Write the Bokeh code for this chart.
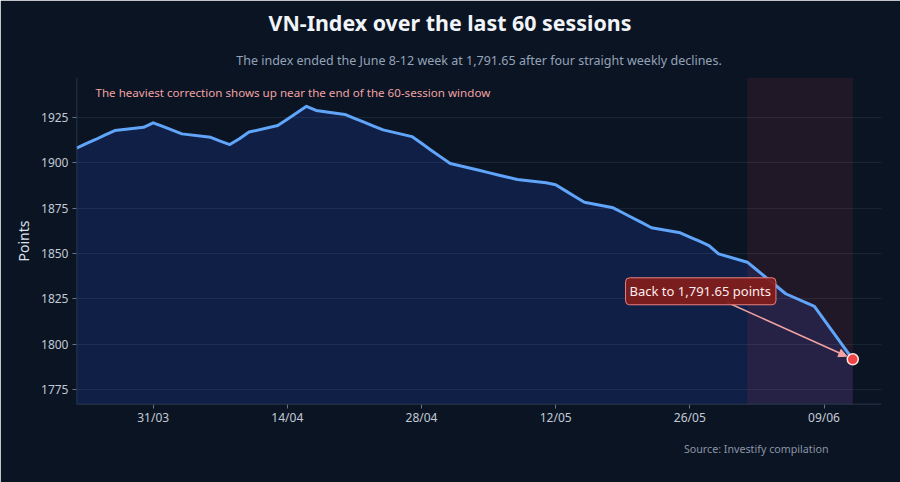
import pandas as pd
from bokeh.plotting import figure
from bokeh.models import (Range1d, FixedTicker, DatetimeTickFormatter, Label, Title, Span,
                          BoxAnnotation, Arrow, NormalHead, ColumnDataSource)
from bokeh.embed import file_html
from bokeh.resources import INLINE

# ---------------- data ----------------
dates = pd.bdate_range("2026-03-23", "2026-06-12")  # 60 sessions
values = [
    1908.1, 1910.6, 1912.9, 1915.5, 1917.8,
    1919.6, 1922.1, 1920.1, 1918.1, 1916.0,
    1914.1, 1912.0, 1910.1, 1913.3, 1917.0,
    1920.6, 1924.1, 1927.6, 1931.2, 1928.9,
    1926.7, 1924.6, 1922.5, 1920.3, 1918.2,
    1914.5, 1910.8, 1907.0, 1903.3, 1899.7,
    1895.9, 1894.6, 1893.3, 1892.1, 1890.8,
    1889.0, 1887.9, 1884.7, 1881.5, 1878.3,
    1875.2, 1872.5, 1869.7, 1867.0, 1864.2,
    1861.4, 1859.1, 1856.8, 1854.4, 1849.8,
    1845.2, 1840.9, 1836.5, 1832.2, 1827.8,
    1820.8, 1813.5, 1806.2, 1798.9, 1791.65,
]
y_ticks = [1775, 1800, 1825, 1850, 1875, 1900, 1925]
x_tick_dates = ["2026-03-31", "2026-04-14", "2026-04-28", "2026-05-12", "2026-05-26", "2026-06-09"]

title_text = "VN-Index over the last 60 sessions"
subtitle_text = "The index ended the June 8-12 week at 1,791.65 after four straight weekly declines."
note_text = "The heaviest correction shows up near the end of the 60-session window"
callout_text = "Back to 1,791.65 points"
source_text = "Source: Investify compilation"

# ---------------- style ----------------
BG = "#0a1423"
AXIS = "#334155"
FONT = "Noto Sans"
W, H = 900, 482
ML, MR, MT, MB = 76, 19, 77, 78
FW, FH = W - ML - MR, H - MT - MB

x0 = pd.Timestamp("2026-03-23")
x1 = pd.Timestamp("2026-06-15")
y0, y1 = 1766.7, 1947.1

def ms(t):
    return pd.Timestamp(t).value / 1e6

src = ColumnDataSource(dict(x=dates, y=values, base=[y0 - 50] * len(values)))

p = figure(width=W, height=H, x_axis_type="datetime",
           output_backend="svg", toolbar_location=None,
           x_range=Range1d(x0, x1), y_range=Range1d(y0, y1),
           min_border_left=ML, min_border_right=MR,
           min_border_top=MT, min_border_bottom=MB)
p.background_fill_color = BG
p.border_fill_color = BG
p.outline_line_color = BG
p.outline_line_width = 2

# titles (subtitle closest to the frame, main title above it)
p.add_layout(Title(text=subtitle_text, align="center", text_font=FONT,
                   text_font_size="12.5px", text_font_style="normal",
                   text_color="#94a3b8", standoff=17), "above")
p.add_layout(Title(text=title_text, align="left", offset=192, text_font=FONT,
                   text_font_size="21.4px", text_font_style="bold",
                   text_color="#f1f5f9", standoff=10), "above")

# grid
p.xgrid.grid_line_color = None
p.ygrid.grid_line_color = "#94a3b8"
p.ygrid.grid_line_alpha = 0.12
p.ygrid.grid_line_width = 1

# axes (axis lines drawn as spans on the range edges)
p.yaxis.ticker = FixedTicker(ticks=y_ticks)
p.xaxis.ticker = FixedTicker(ticks=[ms(d) for d in x_tick_dates])
p.xaxis.formatter = DatetimeTickFormatter(days="%d/%m", months="%d/%m", hours="%d/%m",
                                          years="%d/%m", minutes="%d/%m")
for ax in (p.xaxis, p.yaxis):
    ax.axis_line_color = None
    ax.major_tick_line_color = "#64748b"
    ax.major_tick_out = 4
    ax.major_tick_in = 0
    ax.minor_tick_line_color = None
    ax.major_label_text_font = FONT
    ax.major_label_text_font_size = "12px"
    ax.major_label_text_color = "#c3cad5"
p.xaxis.major_label_standoff = 0
p.yaxis.major_label_standoff = 4
p.yaxis.axis_label = "Points"
p.yaxis.axis_label_text_font = FONT
p.yaxis.axis_label_text_font_size = "14px"
p.yaxis.axis_label_text_font_style = "normal"
p.yaxis.axis_label_text_color = "#dde3ec"
p.yaxis.axis_label_standoff = 5

# source below the axis
p.add_layout(Title(text=source_text, align="right", offset=53, text_font=FONT,
                   text_font_size="10.7px", text_font_style="normal",
                   text_color="#8b95a5", standoff=22), "below")

# area + shade + line
area = p.varea(x="x", y1="base", y2="y", source=src, fill_color="#1e40af", fill_alpha=0.25)
area.level = "image"
shade = BoxAnnotation(left=ms(dates[-10]), right=ms(dates[-1]),
                      fill_color="#ef4444", fill_alpha=0.1, line_color=None, level="underlay")
p.add_layout(shade)
p.line(x="x", y="y", source=src, line_color="#60a5fa", line_width=3, line_join="round")

p.add_layout(Span(location=y0, dimension="width", line_color=AXIS, line_width=1.5))
p.add_layout(Span(location=ms(x0), dimension="height", line_color=AXIS, line_width=1.5))

# callout arrow (offsets in screen pixels converted through the scales)
px_day = FW / ((x1 - x0).total_seconds() / 86400)
px_pt = FH / (y1 - y0)
day_ms = 86400000
tail_dx, tail_dy = -126, 57
tip_dx, tip_dy = -6, 3
p.add_layout(Arrow(
    end=NormalHead(size=8, fill_color="#f4a3a3", line_color="#f4a3a3"),
    x_start=ms(dates[-1]) + tail_dx / px_day * day_ms, y_start=values[-1] + tail_dy / px_pt,
    x_end=ms(dates[-1]) + tip_dx / px_day * day_ms, y_end=values[-1] + tip_dy / px_pt,
    line_color="#f4a3a3", line_width=1.5))

p.scatter(x=[dates[-1]], y=[values[-1]], size=11, fill_color="#ef4444",
          line_color="#fee2e2", line_width=1.5)

p.add_layout(Label(x=ms(dates[-1]), y=values[-1], x_offset=-152, y_offset=68,
                   text=callout_text, text_align="center", text_baseline="middle",
                   text_font=FONT, text_font_size="13px", text_color="#fdecec",
                   background_fill_color="#7f1d1d", background_fill_alpha=0.95,
                   border_line_color="#e88080", border_line_width=1,
                   border_radius=4, padding=(4, 5, 4, 5)))

# note inside the frame (screen units relative to frame)
p.add_layout(Label(x=19, y=FH - 15, x_units="screen", y_units="screen", text=note_text,
                   text_align="left", text_baseline="middle", text_font=FONT,
                   text_font_size="11.6px", text_color="#f0a3a3"))

open("out.html", "w").write(file_html(p, INLINE))
